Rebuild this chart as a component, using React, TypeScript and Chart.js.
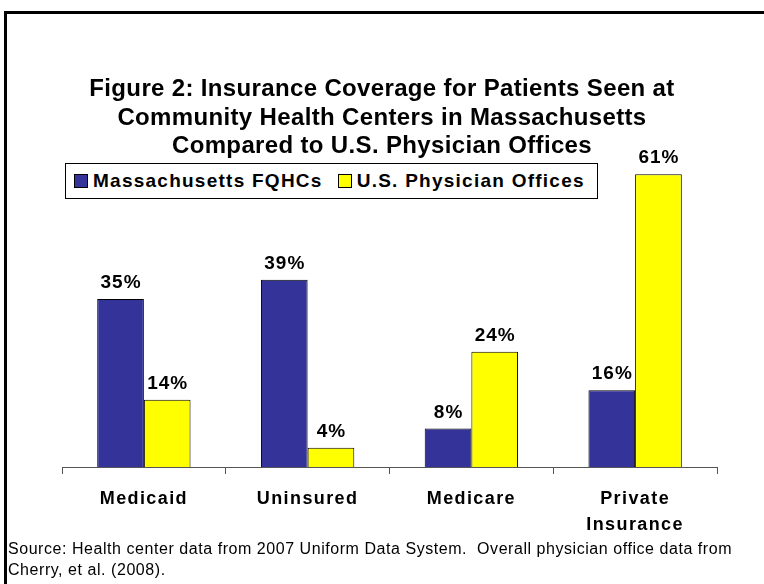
import React, { useEffect, useRef } from "react";
import { Chart, registerables } from "chart.js";

Chart.register(...registerables);

const categories: (string | string[])[] = ["Medicaid", "Uninsured", "Medicare", ["Private", "Insurance"]];
const seriesNames = ["Massachusetts FQHCs", "U.S. Physician Offices"];
const massFQHC = [35, 39, 8, 16];
const usOffices = [14, 4, 24, 61];
const colors = ["#333399", "#FFFF00"];
const titleLines = [
  "Figure 2: Insurance Coverage for Patients Seen at",
  "Community Health Centers in Massachusetts",
  "Compared to U.S. Physician Offices",
];
const sourceLines = [
  "Source: Health center data from 2007 Uniform Data System.  Overall physician office data from",
  "Cherry, et al. (2008).",
];

const FONT = '"Liberation Sans", Arial, Helvetica, sans-serif';

const spacing = {
  id: "spacing",
  beforeDraw(chart: any) {
    (chart.ctx as any).letterSpacing = "1.4px";
  },
};

const dataLabels = {
  id: "dataLabels",
  afterDatasetsDraw(chart: any) {
    const ctx = chart.ctx;
    ctx.save();
    ctx.letterSpacing = "1px";
    ctx.font = `bold 19px ${FONT}`;
    ctx.fillStyle = "#000";
    ctx.textAlign = "center";
    ctx.textBaseline = "alphabetic";
    chart.data.datasets.forEach((ds: any, i: number) => {
      const meta = chart.getDatasetMeta(i);
      meta.data.forEach((bar: any, j: number) => {
        ctx.fillText(`${ds.data[j]}%`, bar.x + 0.5, bar.y - 11);
      });
    });
    ctx.restore();
  },
};

export default function App() {
  const ref = useRef<HTMLCanvasElement>(null);
  useEffect(() => {
    if (!ref.current) return;
    const chart = new Chart(ref.current, {
      type: "bar",
      data: {
        labels: categories,
        datasets: [
          { label: seriesNames[0], data: massFQHC, backgroundColor: colors[0], borderColor: "#000", borderWidth: 1 },
          { label: seriesNames[1], data: usOffices, backgroundColor: colors[1], borderColor: "#000", borderWidth: 1 },
        ],
      },
      options: {
        animation: false,
        responsive: false,
        maintainAspectRatio: false,
        layout: { padding: { left: 62, right: 47, top: 131, bottom: 0 } },
        plugins: { legend: { display: false }, title: { display: false }, tooltip: { enabled: false } },
        datasets: { bar: { categoryPercentage: 0.57, barPercentage: 1 } } as any,
        scales: {
          x: {
            afterFit: (s: any) => { s.height = 117; },
            grid: { offset: true, drawOnChartArea: false, drawTicks: true, tickLength: 7, color: "#555" },
            border: { color: "#555", width: 1 },
            ticks: { color: "#000", font: { family: FONT, size: 18, weight: "bold", lineHeight: 1.45 }, padding: 12, maxRotation: 0 },
          },
          y: { display: false, min: 0, max: 70 },
        },
      },
      plugins: [spacing, dataLabels],
    });
    return () => chart.destroy();
  }, []);

  return (
    <div style={{ position: "absolute", left: 0, top: 0, width: 764, height: 584, overflow: "hidden", background: "#fff", fontFamily: FONT }}>
      <div style={{ position: "absolute", left: 4, top: 11, width: 800, height: 600, borderTop: "3px solid #000", borderLeft: "3px solid #000" }} />
      <canvas ref={ref} width={764} height={584} style={{ position: "absolute", left: 0, top: 0 }} />
      <div style={{ position: "absolute", left: 0, top: 74, width: 764, textAlign: "center", fontWeight: "bold", fontSize: 24, letterSpacing: "0.35px", lineHeight: "28.5px", color: "#000" }}>
        {titleLines.map((t, i) => <div key={i}>{t}</div>)}
      </div>
      <div style={{ position: "absolute", left: 65, top: 163, width: 533, height: 36, border: "1px solid #000", boxSizing: "border-box", background: "#fff", display: "flex", alignItems: "center", fontWeight: "bold", fontSize: 19, letterSpacing: "1.25px", color: "#000", whiteSpace: "nowrap" }}>
        <span style={{ display: "inline-block", width: 12, height: 12, background: colors[0], border: "1px solid #000", marginLeft: 8, marginRight: 5 }} />
        <span>{seriesNames[0]}</span>
        <span style={{ display: "inline-block", width: 12, height: 12, background: colors[1], border: "1px solid #000", marginLeft: 15, marginRight: 5 }} />
        <span>{seriesNames[1]}</span>
      </div>
      <div style={{ position: "absolute", left: 8, top: 538, fontSize: 16, letterSpacing: "0.55px", lineHeight: "21px", color: "#000" }}>
        {sourceLines.map((t, i) => <div key={i} style={{ whiteSpace: "pre" }}>{t}</div>)}
      </div>
    </div>
  );
}
